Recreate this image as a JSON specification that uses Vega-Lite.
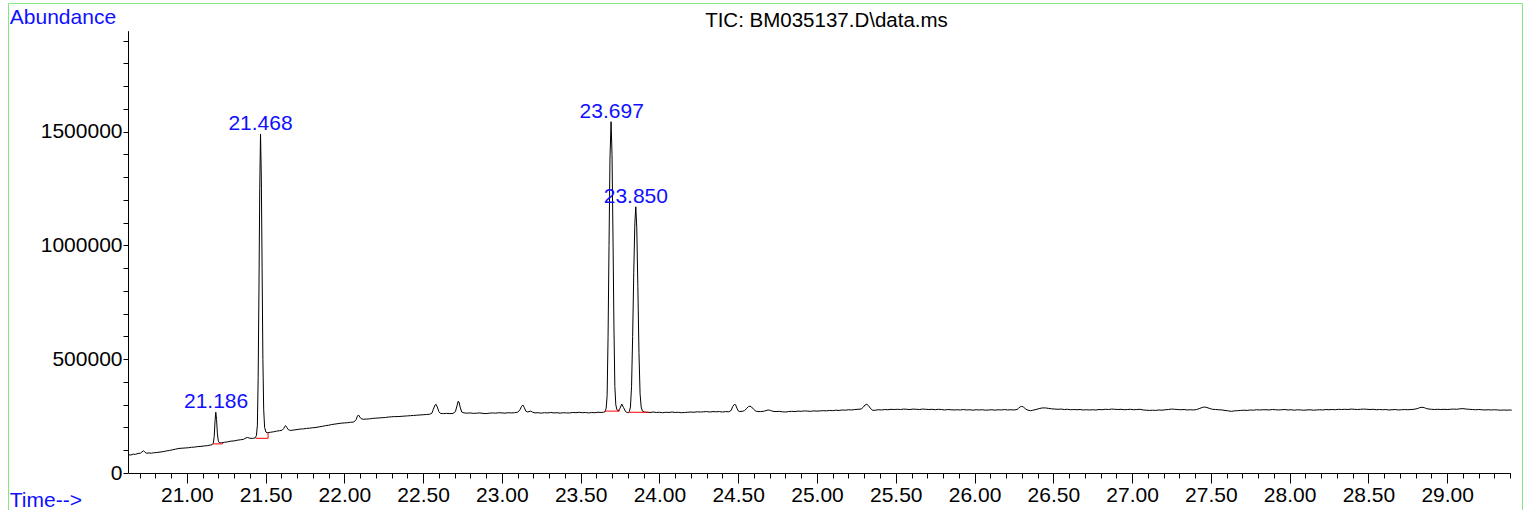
{
"$schema": "https://vega.github.io/schema/vega-lite/v6.json",
"width": 1514, "height": 507,
"autosize": "none",
"padding": {"left": 8, "top": 3, "right": 6, "bottom": 0},
"background": "white",
"config": {"view": {"stroke": "#7fe87f", "strokeWidth": 1}, "font": "Liberation Sans"},
"datasets": {
"tic": [
{"t":20.632,"a":80000},{"t":20.645,"a":79000},{"t":20.66,"a":83000},{"t":20.675,"a":82000},{"t":20.69,"a":86000},{"t":20.705,"a":87000},{"t":20.715,"a":92000},{"t":20.725,"a":98000},{"t":20.735,"a":91000},{"t":20.745,"a":87000},{"t":20.76,"a":88000},{"t":20.775,"a":87000},{"t":20.79,"a":89000},{"t":20.81,"a":90000},{"t":20.83,"a":92000},{"t":20.85,"a":94000},{"t":20.87,"a":97000},{"t":20.89,"a":99000},{"t":20.91,"a":102000},{"t":20.93,"a":105000},{"t":20.95,"a":108000},{"t":20.97,"a":109000},{"t":20.99,"a":110000},{"t":21.01,"a":111000},{"t":21.03,"a":113000},{"t":21.05,"a":114000},{"t":21.07,"a":116000},{"t":21.09,"a":117000},{"t":21.11,"a":119000},{"t":21.13,"a":120000},{"t":21.15,"a":123000},{"t":21.16,"a":124000},
{"t":21.168,"a":130000},{"t":21.174,"a":160000},{"t":21.179,"a":225000},{"t":21.184,"a":267000},{"t":21.189,"a":235000},{"t":21.194,"a":175000},{"t":21.2,"a":140000},{"t":21.208,"a":132000},{"t":21.22,"a":133000},
{"t":21.24,"a":135000},{"t":21.26,"a":137000},{"t":21.28,"a":140000},{"t":21.3,"a":141000},{"t":21.32,"a":144000},{"t":21.34,"a":146000},{"t":21.36,"a":148000},{"t":21.375,"a":154000},{"t":21.385,"a":156000},{"t":21.4,"a":153000},{"t":21.415,"a":152000},{"t":21.425,"a":153000},
{"t":21.435,"a":155000},{"t":21.442,"a":165000},{"t":21.448,"a":210000},{"t":21.453,"a":420000},{"t":21.458,"a":800000},{"t":21.463,"a":1250000},{"t":21.468,"a":1490000},{"t":21.473,"a":1300000},{"t":21.478,"a":900000},{"t":21.483,"a":500000},{"t":21.488,"a":280000},{"t":21.494,"a":200000},{"t":21.502,"a":180000},{"t":21.51,"a":177000},
{"t":21.53,"a":179000},{"t":21.55,"a":181000},{"t":21.57,"a":184000},{"t":21.59,"a":186000},{"t":21.605,"a":188000},{"t":21.615,"a":195000},{"t":21.622,"a":205000},{"t":21.628,"a":208000},{"t":21.635,"a":200000},{"t":21.645,"a":190000},{"t":21.66,"a":187000},{"t":21.68,"a":189000},{"t":21.7,"a":191000},{"t":21.72,"a":193000},{"t":21.74,"a":194000},{"t":21.76,"a":196000},{"t":21.78,"a":197000},{"t":21.8,"a":199000},{"t":21.82,"a":200000},{"t":21.84,"a":203000},{"t":21.86,"a":205000},{"t":21.88,"a":208000},{"t":21.9,"a":210000},{"t":21.92,"a":213000},{"t":21.94,"a":215000},{"t":21.96,"a":217000},{"t":21.98,"a":219000},{"t":22.0,"a":220000},{"t":22.02,"a":221000},{"t":22.04,"a":223000},{"t":22.06,"a":224000},{"t":22.075,"a":235000},{"t":22.083,"a":250000},{"t":22.09,"a":255000},{"t":22.098,"a":246000},{"t":22.108,"a":238000},{"t":22.12,"a":236000},{"t":22.14,"a":237000},{"t":22.16,"a":238000},{"t":22.18,"a":240000},{"t":22.2,"a":241000},{"t":22.22,"a":242000},{"t":22.24,"a":243000},{"t":22.26,"a":244000},{"t":22.28,"a":246000},{"t":22.3,"a":247000},{"t":22.32,"a":248000},{"t":22.34,"a":248000},{"t":22.36,"a":249000},{"t":22.38,"a":250000},{"t":22.4,"a":251000},{"t":22.42,"a":252000},{"t":22.44,"a":253000},{"t":22.46,"a":254000},{"t":22.48,"a":255000},{"t":22.5,"a":256000},{"t":22.52,"a":257000},{"t":22.54,"a":258000},{"t":22.555,"a":262000},{"t":22.565,"a":280000},{"t":22.575,"a":298000},{"t":22.582,"a":302000},{"t":22.59,"a":290000},{"t":22.6,"a":270000},{"t":22.61,"a":262000},{"t":22.63,"a":261000},{"t":22.65,"a":262000},{"t":22.67,"a":261000},{"t":22.69,"a":262000},{"t":22.705,"a":270000},{"t":22.715,"a":295000},{"t":22.722,"a":315000},{"t":22.728,"a":312000},{"t":22.735,"a":290000},{"t":22.745,"a":268000},{"t":22.76,"a":264000},{"t":22.78,"a":263000},{"t":22.8,"a":264000},{"t":22.82,"a":262000},{"t":22.84,"a":263000},{"t":22.86,"a":264000},{"t":22.88,"a":262000},{"t":22.9,"a":261000},{"t":22.92,"a":263000},{"t":22.94,"a":264000},{"t":22.96,"a":263000},{"t":22.98,"a":265000},{"t":23.0,"a":264000},{"t":23.02,"a":263000},{"t":23.04,"a":265000},{"t":23.06,"a":264000},{"t":23.08,"a":265000},{"t":23.1,"a":267000},{"t":23.115,"a":278000},{"t":23.125,"a":293000},{"t":23.133,"a":299000},{"t":23.142,"a":288000},{"t":23.152,"a":272000},{"t":23.162,"a":268000},{"t":23.172,"a":270000},{"t":23.183,"a":272000},{"t":23.195,"a":267000},{"t":23.21,"a":264000},{"t":23.23,"a":265000},{"t":23.25,"a":263000},{"t":23.27,"a":265000},{"t":23.29,"a":264000},{"t":23.31,"a":266000},{"t":23.33,"a":264000},{"t":23.35,"a":265000},{"t":23.37,"a":263000},{"t":23.39,"a":265000},{"t":23.41,"a":264000},{"t":23.43,"a":264000},{"t":23.45,"a":266000},{"t":23.47,"a":265000},{"t":23.49,"a":267000},{"t":23.51,"a":265000},{"t":23.53,"a":266000},{"t":23.55,"a":264000},{"t":23.57,"a":266000},{"t":23.59,"a":265000},{"t":23.61,"a":267000},{"t":23.63,"a":266000},{"t":23.645,"a":267000},
{"t":23.655,"a":270000},{"t":23.662,"a":285000},{"t":23.668,"a":340000},{"t":23.674,"a":600000},{"t":23.68,"a":1000000},{"t":23.686,"a":1380000},{"t":23.693,"a":1544000},{"t":23.699,"a":1400000},{"t":23.705,"a":1050000},{"t":23.711,"a":650000},{"t":23.717,"a":380000},{"t":23.723,"a":300000},{"t":23.73,"a":278000},{"t":23.739,"a":272000},{"t":23.75,"a":285000},{"t":23.761,"a":303000},{"t":23.772,"a":288000},{"t":23.785,"a":270000},{"t":23.795,"a":266000},{"t":23.803,"a":265000},
{"t":23.809,"a":270000},{"t":23.816,"a":290000},{"t":23.823,"a":380000},{"t":23.83,"a":600000},{"t":23.837,"a":880000},{"t":23.844,"a":1100000},{"t":23.85,"a":1170000},{"t":23.856,"a":1080000},{"t":23.863,"a":820000},{"t":23.87,"a":530000},{"t":23.877,"a":350000},{"t":23.884,"a":290000},{"t":23.892,"a":272000},{"t":23.905,"a":268000},
{"t":23.92,"a":267000},{"t":23.94,"a":266000},{"t":23.96,"a":268000},{"t":23.98,"a":266000},{"t":24.0,"a":267000},{"t":24.02,"a":265000},{"t":24.04,"a":267000},{"t":24.06,"a":266000},{"t":24.08,"a":268000},{"t":24.1,"a":266000},{"t":24.12,"a":267000},{"t":24.14,"a":265000},{"t":24.16,"a":266000},{"t":24.18,"a":267000},{"t":24.2,"a":268000},{"t":24.22,"a":267000},{"t":24.24,"a":269000},{"t":24.26,"a":268000},{"t":24.28,"a":269000},{"t":24.3,"a":270000},{"t":24.32,"a":268000},{"t":24.34,"a":270000},{"t":24.36,"a":269000},{"t":24.38,"a":270000},{"t":24.4,"a":268000},{"t":24.42,"a":270000},{"t":24.44,"a":269000},{"t":24.455,"a":275000},{"t":24.465,"a":292000},{"t":24.475,"a":301000},{"t":24.483,"a":300000},{"t":24.492,"a":285000},{"t":24.5,"a":273000},{"t":24.51,"a":270000},{"t":24.525,"a":271000},{"t":24.54,"a":274000},{"t":24.555,"a":285000},{"t":24.565,"a":292000},{"t":24.575,"a":294000},{"t":24.585,"a":290000},{"t":24.598,"a":280000},{"t":24.612,"a":272000},{"t":24.625,"a":270000},{"t":24.64,"a":270000},{"t":24.66,"a":271000},{"t":24.675,"a":274000},{"t":24.69,"a":277000},{"t":24.705,"a":275000},{"t":24.72,"a":271000},{"t":24.74,"a":270000},{"t":24.76,"a":271000},{"t":24.78,"a":269000},{"t":24.8,"a":268000},{"t":24.82,"a":270000},{"t":24.84,"a":271000},{"t":24.86,"a":270000},{"t":24.88,"a":272000},{"t":24.9,"a":271000},{"t":24.92,"a":273000},{"t":24.94,"a":272000},{"t":24.96,"a":271000},{"t":24.98,"a":273000},{"t":25.0,"a":272000},{"t":25.02,"a":273000},{"t":25.04,"a":274000},{"t":25.06,"a":273000},{"t":25.08,"a":275000},{"t":25.1,"a":274000},{"t":25.12,"a":276000},{"t":25.14,"a":275000},{"t":25.16,"a":277000},{"t":25.18,"a":276000},{"t":25.2,"a":278000},{"t":25.22,"a":277000},{"t":25.24,"a":279000},{"t":25.26,"a":280000},{"t":25.28,"a":281000},{"t":25.295,"a":290000},{"t":25.305,"a":299000},{"t":25.316,"a":302000},{"t":25.327,"a":296000},{"t":25.34,"a":283000},{"t":25.355,"a":275000},{"t":25.37,"a":276000},{"t":25.39,"a":278000},{"t":25.41,"a":277000},{"t":25.43,"a":279000},{"t":25.45,"a":278000},{"t":25.47,"a":280000},{"t":25.49,"a":279000},{"t":25.51,"a":280000},{"t":25.53,"a":279000},{"t":25.55,"a":281000},{"t":25.57,"a":280000},{"t":25.59,"a":279000},{"t":25.61,"a":281000},{"t":25.63,"a":280000},{"t":25.65,"a":279000},{"t":25.67,"a":281000},{"t":25.69,"a":280000},{"t":25.71,"a":279000},{"t":25.73,"a":280000},{"t":25.75,"a":278000},{"t":25.77,"a":280000},{"t":25.79,"a":279000},{"t":25.81,"a":277000},{"t":25.83,"a":279000},{"t":25.85,"a":278000},{"t":25.87,"a":277000},{"t":25.89,"a":278000},{"t":25.91,"a":277000},{"t":25.93,"a":279000},{"t":25.95,"a":277000},{"t":25.97,"a":278000},{"t":25.99,"a":276000},{"t":26.01,"a":278000},{"t":26.03,"a":277000},{"t":26.05,"a":278000},{"t":26.07,"a":276000},{"t":26.09,"a":277000},{"t":26.11,"a":278000},{"t":26.13,"a":276000},{"t":26.15,"a":278000},{"t":26.17,"a":277000},{"t":26.19,"a":279000},{"t":26.21,"a":277000},{"t":26.23,"a":278000},{"t":26.25,"a":277000},{"t":26.27,"a":279000},{"t":26.28,"a":285000},{"t":26.29,"a":291000},{"t":26.3,"a":293000},{"t":26.31,"a":290000},{"t":26.325,"a":281000},{"t":26.34,"a":276000},{"t":26.355,"a":274000},{"t":26.37,"a":276000},{"t":26.39,"a":279000},{"t":26.41,"a":283000},{"t":26.43,"a":286000},{"t":26.45,"a":286000},{"t":26.47,"a":284000},{"t":26.49,"a":282000},{"t":26.51,"a":281000},{"t":26.53,"a":280000},{"t":26.55,"a":281000},{"t":26.57,"a":279000},{"t":26.59,"a":280000},{"t":26.61,"a":278000},{"t":26.63,"a":279000},{"t":26.65,"a":278000},{"t":26.67,"a":279000},{"t":26.69,"a":277000},{"t":26.71,"a":278000},{"t":26.73,"a":277000},{"t":26.75,"a":278000},{"t":26.77,"a":277000},{"t":26.79,"a":279000},{"t":26.81,"a":278000},{"t":26.83,"a":280000},{"t":26.85,"a":279000},{"t":26.87,"a":281000},{"t":26.89,"a":280000},{"t":26.91,"a":279000},{"t":26.93,"a":280000},{"t":26.95,"a":278000},{"t":26.97,"a":279000},{"t":26.99,"a":280000},{"t":27.01,"a":278000},{"t":27.03,"a":279000},{"t":27.05,"a":280000},{"t":27.07,"a":277000},{"t":27.09,"a":276000},{"t":27.11,"a":275000},{"t":27.13,"a":276000},{"t":27.15,"a":275000},{"t":27.17,"a":277000},{"t":27.19,"a":276000},{"t":27.21,"a":278000},{"t":27.23,"a":279000},{"t":27.25,"a":281000},{"t":27.27,"a":280000},{"t":27.29,"a":279000},{"t":27.31,"a":278000},{"t":27.33,"a":279000},{"t":27.35,"a":277000},{"t":27.37,"a":278000},{"t":27.39,"a":277000},{"t":27.41,"a":279000},{"t":27.43,"a":284000},{"t":27.445,"a":288000},{"t":27.46,"a":290000},{"t":27.475,"a":288000},{"t":27.49,"a":284000},{"t":27.51,"a":280000},{"t":27.53,"a":279000},{"t":27.55,"a":278000},{"t":27.57,"a":277000},{"t":27.59,"a":275000},{"t":27.61,"a":273000},{"t":27.63,"a":271000},{"t":27.65,"a":273000},{"t":27.67,"a":274000},{"t":27.69,"a":275000},{"t":27.71,"a":276000},{"t":27.73,"a":275000},{"t":27.75,"a":277000},{"t":27.77,"a":276000},{"t":27.79,"a":278000},{"t":27.81,"a":277000},{"t":27.83,"a":278000},{"t":27.85,"a":278000},{"t":27.87,"a":277000},{"t":27.89,"a":279000},{"t":27.91,"a":278000},{"t":27.93,"a":277000},{"t":27.95,"a":278000},{"t":27.97,"a":279000},{"t":27.99,"a":277000},{"t":28.01,"a":278000},{"t":28.03,"a":276000},{"t":28.05,"a":278000},{"t":28.07,"a":277000},{"t":28.09,"a":276000},{"t":28.11,"a":277000},{"t":28.13,"a":278000},{"t":28.15,"a":276000},{"t":28.17,"a":277000},{"t":28.19,"a":278000},{"t":28.21,"a":277000},{"t":28.23,"a":279000},{"t":28.25,"a":278000},{"t":28.27,"a":279000},{"t":28.29,"a":278000},{"t":28.31,"a":280000},{"t":28.33,"a":279000},{"t":28.35,"a":280000},{"t":28.37,"a":279000},{"t":28.39,"a":281000},{"t":28.41,"a":280000},{"t":28.43,"a":279000},{"t":28.45,"a":280000},{"t":28.47,"a":281000},{"t":28.49,"a":280000},{"t":28.51,"a":279000},{"t":28.53,"a":280000},{"t":28.55,"a":278000},{"t":28.57,"a":279000},{"t":28.59,"a":278000},{"t":28.61,"a":279000},{"t":28.63,"a":277000},{"t":28.65,"a":278000},{"t":28.67,"a":279000},{"t":28.69,"a":277000},{"t":28.71,"a":278000},{"t":28.73,"a":279000},{"t":28.75,"a":278000},{"t":28.77,"a":279000},{"t":28.79,"a":280000},{"t":28.81,"a":283000},{"t":28.825,"a":287000},{"t":28.84,"a":289000},{"t":28.855,"a":287000},{"t":28.87,"a":283000},{"t":28.885,"a":281000},{"t":28.9,"a":280000},{"t":28.92,"a":279000},{"t":28.94,"a":280000},{"t":28.96,"a":279000},{"t":28.98,"a":280000},{"t":29.0,"a":279000},{"t":29.02,"a":280000},{"t":29.04,"a":281000},{"t":29.06,"a":280000},{"t":29.08,"a":282000},{"t":29.1,"a":283000},{"t":29.12,"a":281000},{"t":29.14,"a":280000},{"t":29.16,"a":279000},{"t":29.18,"a":278000},{"t":29.2,"a":279000},{"t":29.22,"a":278000},{"t":29.24,"a":277000},{"t":29.26,"a":278000},{"t":29.28,"a":277000},{"t":29.3,"a":278000},{"t":29.32,"a":277000},{"t":29.34,"a":276000},{"t":29.36,"a":277000},{"t":29.38,"a":276000},{"t":29.4,"a":277000},{"t":29.41,"a":276000}
],
"bases": [
{"t":21.163,"t2":21.227,"a":128000,"a2":128000},
{"t":21.227,"t2":21.227,"a":128000,"a2":134000},
{"t":21.437,"t2":21.516,"a":152500,"a2":152500},
{"t":21.516,"t2":21.516,"a":152500,"a2":177000},
{"t":23.655,"t2":23.745,"a":272000,"a2":272000},
{"t":23.745,"t2":23.745,"a":272000,"a2":280000},
{"t":23.805,"t2":23.932,"a":267000,"a2":267000}
],
"peaks": [
{"t":21.186,"a":267000,"label":"21.186"},
{"t":21.468,"a":1490000,"label":"21.468"},
{"t":23.697,"a":1544000,"label":"23.697"},
{"t":23.85,"a":1170000,"label":"23.850"}
]
},
"resolve": {"axis": {"x": "independent", "y": "independent"}},
"layer": [
{"data": {"name": "tic"},
 "mark": {"type": "line", "color": "black", "strokeWidth": 1},
 "encoding": {
  "x": {"field": "t", "type": "quantitative",
   "scale": {"type": "linear", "domain": [20.63, 29.40], "range": [120.5, 1502.2], "nice": false, "zero": false},
   "axis": {"orient": "bottom", "offset": -37, "grid": false,
    "values": [21,21.5,22,22.5,23,23.5,24,24.5,25,25.5,26,26.5,27,27.5,28,28.5,29],
    "format": ".2f",
    "tickSize": 10, "tickColor": "black", "domainColor": "black", "labelColor": "black",
    "labelFontSize": 21, "labelFont": "Liberation Sans", "labelPadding": 1.5, "labelOverlap": false, "labelFlush": false, "labelBound": false,
    "title": "Time-->", "titleColor": "#1010ff", "titleFontWeight": "normal", "titleFontSize": 21, "titleFont": "Liberation Sans",
    "titleX": 1.3, "titleY": 33.7, "titleAlign": "left", "titleBaseline": "alphabetic", "titleAnchor": "start"}},
  "y": {"field": "a", "type": "quantitative",
   "scale": {"type": "linear", "domain": [0, 1944000], "range": [470, 27.7], "nice": false, "zero": true},
   "axis": {"orient": "left", "offset": -120, "grid": false,
    "values": [0,500000,1000000,1500000],
    "format": "d",
    "tickSize": 5, "tickColor": "black", "domainColor": "black", "labelColor": "black",
    "labelFontSize": 21, "labelFont": "Liberation Sans", "labelPadding": 1, "labelOverlap": false, "labelBound": false, "labelFlush": false,
    "title": "Abundance", "titleColor": "#1010ff", "titleFontWeight": "normal", "titleFontSize": 21, "titleFont": "Liberation Sans",
    "titleAngle": 0, "titleX": -118.7, "titleY": 20.3, "titleAlign": "left", "titleBaseline": "alphabetic", "titleAnchor": "start"}}
 }},
{"data": {"name": "bases"},
 "mark": {"type": "rule", "color": "#ff0000", "strokeWidth": 1},
 "encoding": {
  "x": {"field": "t", "type": "quantitative",
   "axis": {"orient": "bottom", "offset": -37, "grid": false, "labels": false, "domain": false, "title": null,
    "values": [20.7,20.8,20.9,21.1,21.2,21.3,21.4,21.6,21.7,21.8,21.9,22.1,22.2,22.3,22.4,22.6,22.7,22.8,22.9,23.1,23.2,23.3,23.4,23.6,23.7,23.8,23.9,24.1,24.2,24.3,24.4,24.6,24.7,24.8,24.9,25.1,25.2,25.3,25.4,25.6,25.7,25.8,25.9,26.1,26.2,26.3,26.4,26.6,26.7,26.8,26.9,27.1,27.2,27.3,27.4,27.6,27.7,27.8,27.9,28.1,28.2,28.3,28.4,28.6,28.7,28.8,28.9,29.1,29.2,29.3,29.4],
    "tickSize": 5, "tickColor": "black"}},
  "x2": {"field": "t2"},
  "y": {"field": "a", "type": "quantitative",
   "axis": {"orient": "left", "offset": -120, "grid": false, "labels": false, "domain": false, "title": null,
    "values": [100000,200000,300000,400000,600000,700000,800000,900000,1100000,1200000,1300000,1400000,1600000,1700000,1800000,1900000],
    "tickSize": 5, "tickColor": "black"}},
  "y2": {"field": "a2"}
 }},
{"data": {"name": "peaks"},
 "mark": {"type": "text", "color": "#1010ff", "fontSize": 21, "font": "Liberation Sans", "align": "center", "baseline": "alphabetic", "dy": -4},
 "encoding": {
  "x": {"field": "t", "type": "quantitative",
   "axis": {"orient": "top", "offset": 0, "grid": false, "labels": false, "ticks": false, "domain": false,
    "title": "TIC: BM035137.D\\data.ms", "titleColor": "black", "titleFontWeight": "normal", "titleFontSize": 20.5, "titleFont": "Liberation Sans",
    "titleX": 818, "titleY": 23, "titleAlign": "center", "titleBaseline": "alphabetic", "titleAnchor": "middle"}},
  "y": {"field": "a", "type": "quantitative", "axis": null},
  "text": {"field": "label", "type": "nominal"}
 }}
]
}
